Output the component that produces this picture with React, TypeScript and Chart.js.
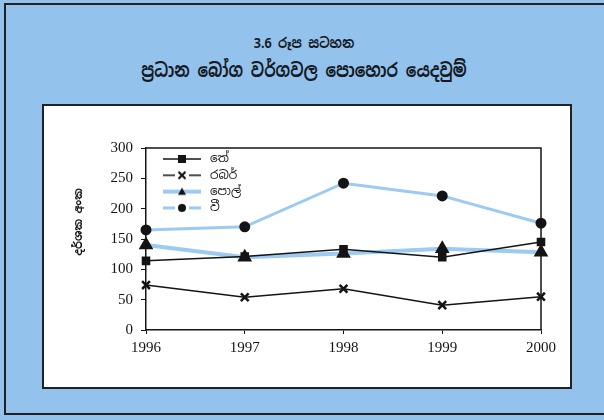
import React, { useEffect, useRef } from "react";
import { Chart, registerables } from "chart.js";

Chart.register(...registerables);

const years = ["1996", "1997", "1998", "1999", "2000"];
const seriesNames = ["තේ", "රබර්", "පොල්", "වී"];
const teaValues = [114, 121, 133, 120, 145];
const rubberValues = [74, 54, 68, 41, 55];
const coconutValues = [140, 120, 126, 134, 128];
const paddyValues = [165, 170, 242, 221, 176];
const yTickValues = [0, 50, 100, 150, 200, 250, 300];

const titleLine1 = "3.6 රූප සටහන";
const titleLine2 = "ප්‍රධාන බෝග වර්ගවල පොහොර යෙදවුම්";
const yAxisTitle = "දර්ශක අංක";

const SIN_FONT = '"Noto Sans Sinhala", "Noto Serif Sinhala", "Iskoola Pota", "Noto Sans", sans-serif';
const SERIF = '"Liberation Serif", "DejaVu Serif", serif';
const BLACK = "#141414";
const LIGHT = "#9ccaf0";

function drawMarker(ctx: CanvasRenderingContext2D, style: string, x: number, y: number, r: number) {
  ctx.save();
  ctx.fillStyle = BLACK;
  ctx.strokeStyle = BLACK;
  ctx.beginPath();
  if (style === "rect") {
    ctx.fillRect(x - r, y - r, r * 2, r * 2);
  } else if (style === "crossRot") {
    ctx.lineWidth = 2.2;
    ctx.moveTo(x - r, y - r);
    ctx.lineTo(x + r, y + r);
    ctx.moveTo(x + r, y - r);
    ctx.lineTo(x - r, y + r);
    ctx.stroke();
  } else if (style === "triangle") {
    ctx.moveTo(x, y - r);
    ctx.lineTo(x + r, y + r * 0.8);
    ctx.lineTo(x - r, y + r * 0.8);
    ctx.closePath();
    ctx.fill();
  } else {
    ctx.arc(x, y, r, 0, Math.PI * 2);
    ctx.fill();
  }
  ctx.restore();
}

function legendImage(lineColor: string, lineWidth: number, marker: string, gap: boolean) {
  const c = document.createElement("canvas");
  c.width = 40;
  c.height = 14;
  const ctx = c.getContext("2d")!;
  ctx.strokeStyle = lineColor;
  ctx.lineWidth = lineWidth;
  ctx.beginPath();
  if (gap) {
    ctx.moveTo(1, 7);
    ctx.lineTo(13, 7);
    ctx.moveTo(27, 7);
    ctx.lineTo(39, 7);
  } else {
    ctx.moveTo(1, 7);
    ctx.lineTo(39, 7);
  }
  ctx.stroke();
  drawMarker(ctx, marker, 20, 7, marker === "crossRot" ? 3.5 : 4);
  return c;
}

const boxPlugin = {
  id: "boxFrame",
  afterDatasetsDraw(chart: any) {
    const { ctx, chartArea } = chart;
    ctx.save();
    ctx.strokeStyle = BLACK;
    ctx.lineWidth = 1.5;
    ctx.beginPath();
    ctx.moveTo(chartArea.left, chartArea.top);
    ctx.lineTo(chartArea.right, chartArea.top);
    ctx.lineTo(chartArea.right, chartArea.bottom);
    ctx.stroke();
    ctx.restore();
  },
};

function makeLegendPlugin(images: HTMLCanvasElement[]) {
  return {
    id: "insideLegend",
    afterDraw(chart: any) {
      const { ctx, chartArea } = chart;
      ctx.save();
      ctx.font = `12px ${SIN_FONT}`;
      ctx.fillStyle = BLACK;
      ctx.textBaseline = "middle";
      ctx.textAlign = "left";
      chart.data.datasets.forEach((ds: any, i: number) => {
        const y = chartArea.top + 11 + i * 16.3;
        const img = images[i];
        ctx.drawImage(img, chartArea.left + 16, y - img.height / 2);
        ctx.fillText(ds.label, chartArea.left + 64, y);
      });
      ctx.restore();
    },
  };
}

export default function App() {
  const ref = useRef<HTMLCanvasElement | null>(null);

  useEffect(() => {
    if (!ref.current) return;
    const images = [
      legendImage(BLACK, 1.5, "rect", false),
      legendImage(BLACK, 1.5, "crossRot", true),
      legendImage(LIGHT, 4, "triangle", false),
      legendImage(LIGHT, 3, "circle", true),
    ];
    const chart = new Chart(ref.current, {
      type: "line",
      data: {
        labels: years,
        datasets: [
          {
            label: seriesNames[0],
            data: teaValues,
            borderColor: BLACK,
            borderWidth: 1.5,
            pointStyle: "rect",
            pointRadius: 5,
            pointBackgroundColor: BLACK,
            pointBorderColor: BLACK,
            tension: 0,
            order: 1,
          },
          {
            label: seriesNames[1],
            data: rubberValues,
            borderColor: BLACK,
            borderWidth: 1.5,
            pointStyle: "crossRot",
            pointRadius: 5.5,
            pointBorderWidth: 2.5,
            pointBackgroundColor: BLACK,
            pointBorderColor: BLACK,
            tension: 0,
            order: 2,
          },
          {
            label: seriesNames[2],
            data: coconutValues,
            borderColor: LIGHT,
            borderWidth: 4,
            pointStyle: "triangle",
            pointRadius: 4.5,
            pointBackgroundColor: BLACK,
            pointBorderColor: BLACK,
            tension: 0,
            order: 3,
          },
          {
            label: seriesNames[3],
            data: paddyValues,
            borderColor: LIGHT,
            borderWidth: 3,
            pointStyle: "circle",
            pointRadius: 4,
            pointBackgroundColor: BLACK,
            pointBorderColor: BLACK,
            tension: 0,
            order: 4,
          },
        ],
      },
      options: {
        animation: false,
        responsive: false,
        maintainAspectRatio: false,
        layout: { padding: { left: 0, right: 30, top: 43, bottom: 18 } },
        scales: {
          x: {
            type: "category",
            offset: false,
            grid: { display: true, drawOnChartArea: false, drawTicks: true, tickLength: 4, color: BLACK },
            border: { display: true, color: BLACK, width: 1.5 },
            ticks: {
              color: BLACK,
              font: { family: SERIF, size: 15 },
              padding: 5,
              maxRotation: 0,
              autoSkip: false,
            },
            afterFit: (s: any) => {
              s.height = 40;
            },
          },
          y: {
            min: 0,
            max: 300,
            afterBuildTicks: (s: any) => {
              s.ticks = yTickValues.map((v) => ({ value: v }));
            },
            grid: { display: true, drawOnChartArea: false, drawTicks: true, tickLength: 5, color: BLACK },
            border: { display: true, color: BLACK, width: 1.5 },
            ticks: {
              color: BLACK,
              font: { family: SERIF, size: 15 },
              padding: 8,
            },
            afterFit: (s: any) => {
              s.width = 103;
            },
          },
        },
        plugins: {
          tooltip: { enabled: false },
          legend: { display: false },
        },
      },
      plugins: [boxPlugin, makeLegendPlugin(images)],
    } as any);
    return () => chart.destroy();
  }, []);

  return (
    <div
      style={{
        position: "fixed",
        left: 0,
        top: 0,
        width: 604,
        height: 420,
        background: "#93c3ec",
        overflow: "hidden",
      }}
    >
      <div
        style={{
          position: "absolute",
          left: 4,
          top: 3,
          width: 600,
          height: 412,
          borderLeft: "2px solid #222",
          borderTop: "2px solid #222",
          borderBottom: "2px solid #222",
          boxSizing: "border-box",
        }}
      />
      <div
        style={{
          position: "absolute",
          left: 2,
          width: 604,
          top: 33,
          textAlign: "center",
          fontFamily: SIN_FONT,
          fontWeight: "bold",
          fontSize: 14,
          color: "#161a24",
          lineHeight: "20px",
          transform: "scaleX(0.9)",
        }}
      >
        {titleLine1}
      </div>
      <div
        style={{
          position: "absolute",
          left: 2,
          width: 604,
          top: 57,
          textAlign: "center",
          fontFamily: SIN_FONT,
          fontWeight: "bold",
          fontSize: 19,
          color: "#161a24",
          lineHeight: "28px",
          transform: "scaleX(0.83)",
        }}
      >
        {titleLine2}
      </div>
      <div
        style={{
          position: "absolute",
          left: 42,
          top: 104,
          width: 530,
          height: 285,
          background: "#ffffff",
          border: "2px solid #222",
          boxSizing: "border-box",
        }}
      />
      <canvas
        ref={ref}
        width={528}
        height={283}
        style={{ position: "absolute", left: 43, top: 105, width: 528, height: 283 }}
      />
      <div
        style={{
          position: "absolute",
          left: 78 - 40,
          top: 222 - 8,
          width: 80,
          height: 16,
          lineHeight: "16px",
          textAlign: "center",
          fontFamily: SIN_FONT,
          fontWeight: "bold",
          fontSize: 11,
          color: BLACK,
          transform: "rotate(-90deg)",
        }}
      >
        {yAxisTitle}
      </div>
    </div>
  );
}
